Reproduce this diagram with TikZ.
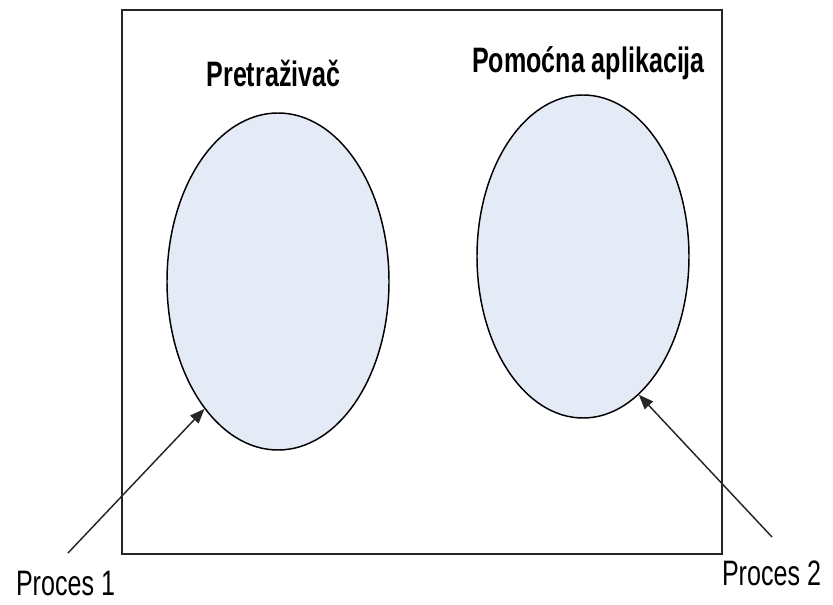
\documentclass[tikz,border=0pt]{standalone}
\usepackage{fontspec}
\setmainfont{Liberation Sans}
\newfontfamily\narrowfont[FakeStretch=0.71]{Liberation Sans}
\usetikzlibrary{shapes.geometric,arrows.meta}
\definecolor{procfill}{RGB}{228,234,246}
\tikzset{
  frame/.style={draw=black!85, line width=1.6pt},
  proc/.style={ellipse, draw=black, line width=1.1pt, fill=procfill, inner sep=0pt},
  title/.style={font=\narrowfont\bfseries\fontsize{26.5}{31}\selectfont, anchor=base, inner sep=0pt},
  plabel/.style={font=\narrowfont\fontsize{26.5}{31}\selectfont, anchor=base, inner sep=0pt},
  arr/.style={draw=black!85, line width=1.1pt, -{Triangle[length=11pt,width=8.5pt]}}
}
\begin{document}
\begin{tikzpicture}[x=0.75pt,y=-0.75pt]
\useasboundingbox (0,0) rectangle (833,605);
\draw[frame] (122,10) rectangle (722,554);
\node[proc, minimum width=166.5pt, minimum height=252.75pt] (e1) at (278,281.5) {};
\node[proc, minimum width=159pt, minimum height=242.25pt] (e2) at (583,256.5) {};
\node[title] (l1) at (273.5,87) {Pretraživač};
\node[title] (l2) at (588.5,73) {Pomoćna aplikacija};
\node[plabel] (p1) at (65.5,596) {Proces 1};
\node[plabel] (p2) at (771.5,586) {Proces 2};
\coordinate (t1) at (68,553);
\coordinate (t2) at (772,537);
\draw[arr] (t1) -- (e1.240);
\draw[arr] (t2) -- (e2.292);
\end{tikzpicture}
\end{document}
